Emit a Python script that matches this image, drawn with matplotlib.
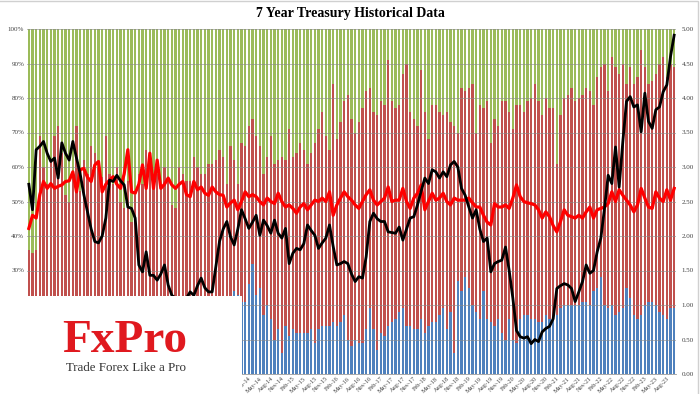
import numpy as np
import pandas as pd
import matplotlib
matplotlib.use("Agg")
import matplotlib.pyplot as plt
from matplotlib.patches import Rectangle
from matplotlib.ticker import MultipleLocator, FuncFormatter

# 7-year auctions, monthly, Feb-09 .. Oct-23
months = pd.date_range("2009-02-01", periods=177, freq="MS")

# auction high yield (%), right axis
yield_7y = [
    2.75, 2.38, 3.25, 3.30, 3.37, 3.20, 3.08, 3.13, 2.84, 3.35,
    3.20, 3.10, 3.37, 3.13, 2.90, 2.60, 2.35, 2.10, 1.92, 1.90,
    2.00, 2.26, 2.81, 2.79, 2.88, 2.80, 2.74, 2.42, 2.40, 2.26,
    1.58, 1.48, 1.77, 1.43, 1.43, 1.36, 1.45, 1.58, 1.29, 1.14,
    1.10, 0.95, 1.04, 1.10, 1.19, 1.14, 1.28, 1.39, 1.25, 1.19,
    1.19, 1.55, 1.92, 2.10, 2.21, 1.99, 1.87, 2.10, 2.38, 2.25,
    2.11, 2.20, 2.30, 2.01, 2.23, 2.15, 2.04, 2.23, 2.04, 1.97,
    2.11, 1.60, 1.75, 1.82, 1.80, 1.89, 2.16, 2.08, 2.01, 1.82,
    1.90, 1.97, 2.16, 1.85, 1.58, 1.60, 1.63, 1.60, 1.45, 1.34,
    1.41, 1.39, 1.70, 2.21, 2.33, 2.25, 2.21, 2.21, 2.06, 2.05,
    2.04, 2.13, 1.94, 2.10, 2.26, 2.28, 2.45, 2.65, 2.84, 2.76,
    2.96, 2.93, 2.84, 2.93, 2.86, 3.03, 3.08, 3.00, 2.69, 2.59,
    2.42, 2.26, 2.38, 2.10, 1.92, 1.97, 1.48, 1.60, 1.63, 1.65,
    1.84, 1.50, 1.10, 0.63, 0.54, 0.52, 0.54, 0.44, 0.50, 0.47,
    0.61, 0.66, 0.69, 0.80, 1.24, 1.28, 1.31, 1.29, 1.24, 1.05,
    1.19, 1.34, 1.58, 1.46, 1.50, 1.77, 1.97, 2.40, 2.88, 2.76,
    3.29, 2.71, 3.37, 3.95, 4.02, 3.87, 3.90, 3.51, 4.07, 3.66,
    3.56, 3.83, 3.87, 4.09, 4.19, 4.60, 4.91,
]

# bid-to-cover ratio, right axis
bid_to_cover = [
    2.11, 2.30, 2.26, 2.60, 2.79, 2.69, 2.76, 2.69, 2.72, 2.74,
    2.79, 2.80, 2.93, 2.64, 2.96, 2.98, 2.85, 2.79, 3.03, 3.08,
    2.64, 2.75, 2.81, 2.86, 2.75, 2.69, 2.90, 3.25, 2.64, 2.62,
    2.75, 3.03, 2.69, 3.20, 2.69, 3.10, 2.69, 2.75, 2.84, 2.74,
    2.69, 2.75, 2.79, 2.60, 2.57, 2.79, 2.67, 2.71, 2.62, 2.59,
    2.71, 2.64, 2.60, 2.59, 2.42, 2.48, 2.52, 2.38, 2.50, 2.64,
    2.57, 2.60, 2.57, 2.50, 2.45, 2.55, 2.50, 2.47, 2.62, 2.50,
    2.42, 2.45, 2.40, 2.33, 2.42, 2.47, 2.38, 2.45, 2.52, 2.50,
    2.55, 2.50, 2.64, 2.30, 2.45, 2.55, 2.64, 2.57, 2.52, 2.45,
    2.40, 2.50, 2.60, 2.67, 2.52, 2.45, 2.50, 2.55, 2.71, 2.50,
    2.52, 2.52, 2.69, 2.50, 2.40, 2.55, 2.62, 2.74, 2.38, 2.50,
    2.62, 2.52, 2.55, 2.62, 2.50, 2.45, 2.55, 2.52, 2.52, 2.52,
    2.55, 2.48, 2.42, 2.42, 2.30, 2.20, 2.16, 2.47, 2.42, 2.42,
    2.45, 2.40, 2.55, 2.74, 2.57, 2.50, 2.48, 2.47, 2.45, 2.38,
    2.26, 2.35, 2.28, 2.15, 2.06, 2.21, 2.38, 2.30, 2.28, 2.26,
    2.30, 2.26, 2.35, 2.42, 2.26, 2.38, 2.40, 2.42, 2.47, 2.64,
    2.50, 2.67, 2.59, 2.52, 2.45, 2.35, 2.45, 2.69, 2.55, 2.42,
    2.40, 2.64, 2.55, 2.50, 2.67, 2.52, 2.69,
]

# direct bidders share (%), blue
direct = [
    12, 15, 14, 18, 16, 14, 20, 17, 15, 13,
    16, 14, 18, 15, 13, 17, 15, 12, 16, 14,
    15, 18, 13, 16, 14, 12, 17, 15, 13, 16,
    14, 17, 15, 13, 16, 18, 14, 15, 12, 16,
    15, 13, 17, 14, 16, 18, 15, 17, 14, 19,
    16, 18, 15, 17, 19, 18, 24, 23, 21, 21,
    26, 32, 23, 25, 17, 20, 16, 10, 13, 6,
    14, 11, 13, 12, 12, 12, 12, 13, 9, 13,
    14, 14, 14, 15, 14, 15, 17, 10, 8, 10,
    9, 9, 13, 19, 13, 7, 12, 11, 14, 15,
    16, 18, 19, 14, 14, 13, 13, 16, 12, 14,
    15, 15, 17, 19, 13, 18, 6, 27, 24, 28,
    25, 20, 18, 16, 24, 16, 15, 14, 16, 12,
    10, 16, 10, 9, 16, 17, 17, 16, 16, 15,
    15, 17, 16, 16, 17, 19, 20, 20, 20, 20,
    20, 21, 21, 20, 24, 25, 28, 20, 19, 20,
    17, 18, 19, 25, 22, 17, 16, 17, 20, 21,
    21, 20, 18, 17, 16, 19, 19,
]

# direct + indirect share (%), top of the red segment; dealers take the rest
non_dealer = [
    36, 35, 36, 69, 60, 55, 62, 69, 72, 64,
    52, 50, 58, 72, 53, 62, 58, 66, 64, 60,
    57, 69, 58, 55, 60, 50, 48, 56, 44, 52,
    58, 55, 65, 60, 56, 58, 54, 60, 57, 49,
    48, 60, 58, 56, 56, 63, 60, 58, 58, 61,
    61, 62, 65, 63, 55, 66, 62, 55, 67, 66,
    72, 74, 69, 66, 58, 63, 69, 61, 62, 63,
    62, 71, 63, 64, 67, 65, 61, 64, 67, 71,
    76, 69, 65, 84, 68, 73, 79, 81, 74, 70,
    73, 77, 82, 83, 76, 75, 79, 78, 91, 79,
    77, 78, 87, 90, 76, 74, 72, 88, 76, 68,
    78, 78, 76, 75, 76, 73, 72, 70, 83, 82,
    83, 84, 70, 78, 77, 79, 67, 74, 72, 79,
    79, 76, 71, 78, 78, 76, 79, 80, 84, 79,
    75, 80, 77, 77, 61, 75, 80, 81, 83, 79,
    80, 81, 83, 82, 78, 86, 89, 90, 82, 92,
    89, 87, 90, 84, 89, 84, 86, 94, 89, 84,
    85, 87, 90, 92, 86, 90, 89,
]

serif = "Liberation Serif"
tick_col = "#404040"

fig = plt.figure(figsize=(7, 3.94), dpi=100)
ax = fig.add_axes([27 / 700, 20 / 394, 649 / 700, 345 / 394])

x = np.arange(len(months))
d = np.array(direct)
nd = np.array(non_dealer)
w = 0.68
ax.bar(x, d, width=w, color="#4F81BD", linewidth=0)
ax.bar(x, nd - d, bottom=d, width=w, color="#C0504D", linewidth=0)
ax.bar(x, 100 - nd, bottom=nd, width=w, color="#9BBB59", linewidth=0)

ax.set_xlim(-0.5, len(months) - 0.5)
ax.set_ylim(0, 100)
ax.yaxis.set_major_locator(MultipleLocator(10))
ax.yaxis.set_major_formatter(FuncFormatter(lambda v, p: f"{v:.0f}%"))
ax.set_axisbelow(False)
ax.grid(axis="y", color="#8a8a8a", linewidth=0.6, alpha=0.7)

# quarterly labels; the ones under the logo box are not visible in the original
ticks = x[::3]
labels = [m.strftime("%b-%y") for m in months[::3]]
ax.set_xticks(ticks)
ax.set_xticklabels(labels, rotation=45, ha="right", rotation_mode="anchor")
ax.tick_params(axis="x", length=0, pad=1.5, labelsize=4.5, labelcolor=tick_col)
ax.tick_params(axis="y", length=0, pad=2, labelsize=5, labelcolor=tick_col)
for t, lab in zip(ticks, ax.get_xticklabels()):
    if t < 58:
        lab.set_visible(False)
for lab in ax.get_xticklabels() + ax.get_yticklabels():
    lab.set_family(serif)
for s in ["left", "right", "top"]:
    ax.spines[s].set_visible(False)
ax.spines["bottom"].set_color("#9a9a9a")
ax.spines["bottom"].set_linewidth(0.6)

ax2 = ax.twinx()
ax2.plot(x, bid_to_cover, color="#FF0000", linewidth=2.3, solid_joinstyle="round")
ax2.plot(x, yield_7y, color="black", linewidth=2.0, solid_joinstyle="round")
ax2.set_ylim(0, 5)
ax2.yaxis.set_major_locator(MultipleLocator(0.5))
ax2.yaxis.set_major_formatter(FuncFormatter(lambda v, p: f"{v:.2f}"))
ax2.tick_params(axis="y", length=0, pad=4, labelsize=5, labelcolor=tick_col)
for lab in ax2.get_yticklabels():
    lab.set_family(serif)
for s in ax2.spines.values():
    s.set_visible(False)

fig.text(0.5, (394 - 14) / 394, "7 Year Treasury Historical Data",
         ha="center", va="center", fontsize=10, fontweight="bold", family=serif)

# chart frame
fig.add_artist(Rectangle((-0.01, -0.01), 698 / 700 + 0.01, 393 / 394 + 0.01,
                         transform=fig.transFigure, fill=False,
                         edgecolor="#d0d0d0", linewidth=1))

# logo overlay
fig.add_artist(Rectangle((0, 0), 242 / 700, 98 / 394, transform=fig.transFigure,
                         facecolor="white", edgecolor="none", zorder=20))
fig.text(125 / 700, (394 - 352) / 394, "FxPro", ha="center", va="baseline",
         fontsize=34, fontweight="bold", color="#E0191F", family=serif, zorder=21)
fig.text(126 / 700, (394 - 371) / 394, "Trade Forex Like a Pro", ha="center",
         va="baseline", fontsize=9.3, color="#333333", family=serif, zorder=21)

fig.savefig("out.png", dpi=100)
